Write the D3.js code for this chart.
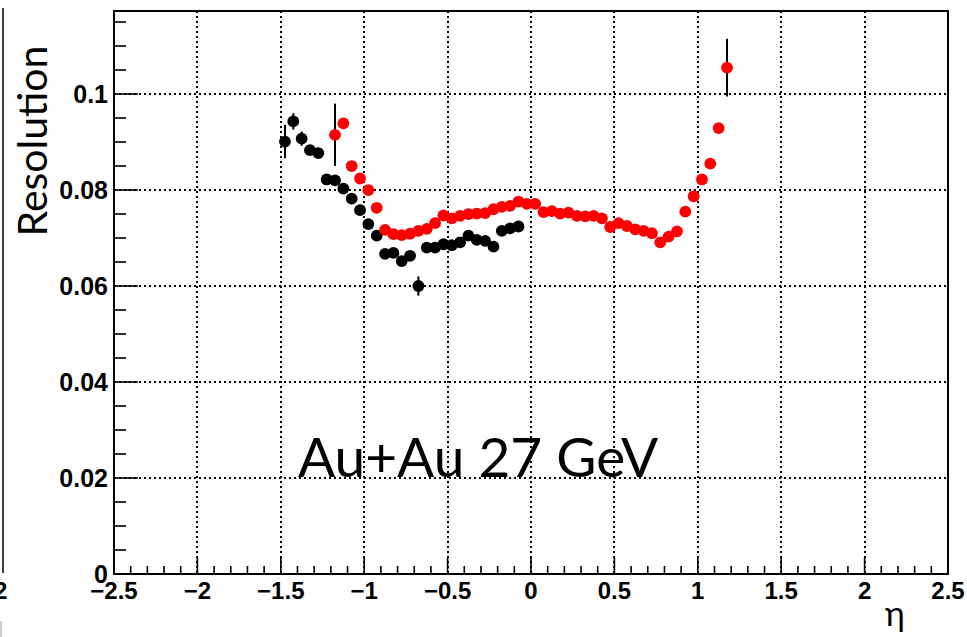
<!DOCTYPE html>
<html>
<head>
<meta charset="utf-8">
<script src="https://cdn.jsdelivr.net/npm/d3@7"></script>
<style>
  html, body { margin: 0; padding: 0; background: #fff; }
  svg { display: block; }
  .tick-label { font-family: "Liberation Sans", Arial, sans-serif; font-weight: bold; fill: #000; }
</style>
</head>
<body>
<svg id="chart" width="967" height="637"></svg>
<script>
// eta bin centres and resolution values
const etaBlack = [-1.475, -1.425, -1.375, -1.325, -1.275, -1.225, -1.175, -1.125, -1.075, -1.025,
  -0.975, -0.925, -0.875, -0.825, -0.775, -0.725, -0.675, -0.625, -0.575, -0.525,
  -0.475, -0.425, -0.375, -0.325, -0.275, -0.225, -0.175, -0.125, -0.075];
const resBlack = [0.0901, 0.0943, 0.0907, 0.0883, 0.0877, 0.0822, 0.0820, 0.0803, 0.0782, 0.0758,
  0.0729, 0.0705, 0.0667, 0.0669, 0.0652, 0.0663, 0.0600, 0.0680, 0.0680, 0.0687,
  0.0685, 0.0691, 0.0705, 0.0696, 0.0694, 0.0682, 0.0715, 0.0720, 0.0724];
const errBlack = [0.0035, 0.0017, 0.0015, 0.0008, 0.0008, 0.0008, 0.0008, 0.0008, 0.0008, 0.0008,
  0.0008, 0.0008, 0.0008, 0.0008, 0.0008, 0.0008, 0.0020, 0.0008, 0.0008, 0.0008,
  0.0008, 0.0008, 0.0008, 0.0008, 0.0008, 0.0008, 0.0008, 0.0008, 0.0008];

const etaRed = [-1.175, -1.125, -1.075, -1.025, -0.975, -0.925, -0.875, -0.825, -0.775, -0.725,
  -0.675, -0.625, -0.575, -0.525, -0.475, -0.425, -0.375, -0.325, -0.275, -0.225,
  -0.175, -0.125, -0.075, -0.025, 0.025, 0.075, 0.125, 0.175, 0.225, 0.275,
  0.325, 0.375, 0.425, 0.475, 0.525, 0.575, 0.625, 0.675, 0.725, 0.775,
  0.825, 0.875, 0.925, 0.975, 1.025, 1.075, 1.125, 1.175];
const resRed = [0.0915, 0.0939, 0.0850, 0.0824, 0.0800, 0.0763, 0.0717, 0.0708, 0.0706, 0.0709,
  0.0715, 0.0719, 0.0731, 0.0747, 0.0741, 0.0746, 0.0750, 0.0751, 0.0752, 0.0760,
  0.0765, 0.0767, 0.0776, 0.0771, 0.0771, 0.0754, 0.0756, 0.0751, 0.0753, 0.0746,
  0.0745, 0.0746, 0.0741, 0.0723, 0.0731, 0.0725, 0.0718, 0.0715, 0.0710, 0.0691,
  0.0703, 0.0714, 0.0755, 0.0787, 0.0822, 0.0855, 0.0929, 0.1055];
const errRed = [0.0065, 0.0008, 0.0008, 0.0008, 0.0008, 0.0008, 0.0008, 0.0008, 0.0008, 0.0008,
  0.0008, 0.0008, 0.0008, 0.0008, 0.0008, 0.0008, 0.0008, 0.0008, 0.0008, 0.0008,
  0.0008, 0.0008, 0.0008, 0.0008, 0.0008, 0.0008, 0.0008, 0.0008, 0.0008, 0.0008,
  0.0008, 0.0008, 0.0008, 0.0008, 0.0008, 0.0008, 0.0008, 0.0008, 0.0008, 0.0008,
  0.0008, 0.0008, 0.0008, 0.0008, 0.0008, 0.0008, 0.0008, 0.0060];

// axis ticks
const xMajorTicks = [-2.5, -2, -1.5, -1, -0.5, 0, 0.5, 1, 1.5, 2, 2.5];
const yMajorTicks = [0, 0.02, 0.04, 0.06, 0.08, 0.1];
const xDomain = [-2.5, 2.5];
const yDomain = [0, 0.1173];

const svg = d3.select('#chart');
const frame = { left: 114, right: 948, top: 11, bottom: 574 };

const x = d3.scaleLinear().domain(xDomain).range([frame.left, frame.right]);
const y = d3.scaleLinear().domain(yDomain).range([frame.bottom, frame.top]);
const fmt = d3.format('~g');

// bits of the neighbouring panel cut off at the left edge
svg.append('line')
  .attr('x1', 3).attr('x2', 3).attr('y1', 8).attr('y2', 573)
  .attr('stroke', '#000').attr('stroke-width', 1.5);
svg.append('text')
  .attr('class', 'tick-label')
  .attr('x', -6).attr('y', 599)
  .style('font-size', '24px')
  .text('2');
svg.append('line')
  .attr('x1', 1).attr('x2', 1).attr('y1', 621).attr('y2', 637)
  .attr('stroke', '#bbb').attr('stroke-width', 1.5);

// dotted grid
const grid = svg.append('g').attr('class', 'grid')
  .attr('stroke', '#000').attr('stroke-width', 2).attr('stroke-dasharray', '2,3')
  .attr('shape-rendering', 'crispEdges');
grid.selectAll('line.gx')
  .data(xMajorTicks.slice(1, -1))
  .join('line')
  .attr('class', 'gx')
  .attr('x1', d => Math.round(x(d))).attr('x2', d => Math.round(x(d)))
  .attr('y1', frame.top).attr('y2', frame.bottom);
grid.selectAll('line.gy')
  .data(yMajorTicks.slice(1))
  .join('line')
  .attr('class', 'gy')
  .attr('x1', frame.left).attr('x2', frame.right)
  .attr('y1', d => Math.round(y(d))).attr('y2', d => Math.round(y(d)));

// ticks (ROOT style: inside the frame, bottom and left only)
const xMinor = d3.range(-25, 26).map(i => i / 10);
const yMinor = d3.range(0, 24).map(i => i * 0.005).filter(v => v <= yDomain[1]);
const ticks = svg.append('g').attr('stroke', '#000').attr('stroke-width', 1.6);
ticks.selectAll('line.xt')
  .data(xMinor)
  .join('line')
  .attr('class', 'xt')
  .attr('x1', d => x(d)).attr('x2', d => x(d))
  .attr('y1', frame.bottom)
  .attr('y2', d => frame.bottom - (Math.abs(d * 2 - Math.round(d * 2)) < 1e-6 ? 16 : 8));
ticks.selectAll('line.yt')
  .data(yMinor)
  .join('line')
  .attr('class', 'yt')
  .attr('y1', d => y(d)).attr('y2', d => y(d))
  .attr('x1', frame.left)
  .attr('x2', (d, i) => frame.left + (i % 4 === 0 ? 24 : 12));

// tick labels
svg.append('g').selectAll('text')
  .data(xMajorTicks)
  .join('text')
  .attr('class', 'tick-label')
  .attr('x', d => x(d))
  .attr('y', 599)
  .attr('text-anchor', 'middle')
  .style('font-size', '24px')
  .text(d => fmt(d));
svg.append('g').selectAll('text')
  .data(yMajorTicks)
  .join('text')
  .attr('class', 'tick-label')
  .attr('x', frame.left - 6)
  .attr('y', d => y(d))
  .attr('dy', '0.36em')
  .attr('text-anchor', 'end')
  .style('font-size', '25px')
  .text(d => fmt(d));

// frame
svg.append('rect')
  .attr('x', frame.left).attr('y', frame.top)
  .attr('width', frame.right - frame.left).attr('height', frame.bottom - frame.top)
  .attr('fill', 'none').attr('stroke', '#000').attr('stroke-width', 2);

// data series
const drawSeries = (etas, vals, errs, color) => {
  const pts = etas.map((e, i) => ({ eta: e, v: vals[i], err: errs[i] }));
  const g = svg.append('g');
  g.selectAll('line')
    .data(pts)
    .join('line')
    .attr('x1', d => x(d.eta)).attr('x2', d => x(d.eta))
    .attr('y1', d => y(d.v - d.err)).attr('y2', d => y(d.v + d.err))
    .attr('stroke', '#000').attr('stroke-width', 2);
  g.selectAll('circle')
    .data(pts)
    .join('circle')
    .attr('cx', d => x(d.eta))
    .attr('cy', d => y(d.v))
    .attr('r', 5.9)
    .attr('fill', color);
};
drawSeries(etaBlack, resBlack, errBlack, '#000');
drawSeries(etaRed, resRed, errRed, '#ff0000');

// titles
svg.append('text')
  .attr('transform', 'translate(47,141) rotate(-90)')
  .attr('text-anchor', 'middle')
  .style('font-family', 'Lato, "Open Sans", sans-serif')
  .style('font-size', '41px')
  .text('Resolution');

svg.append('text')
  .attr('x', 895).attr('y', 626)
  .attr('text-anchor', 'middle')
  .style('font-family', 'Lato, "DejaVu Sans", sans-serif')
  .style('font-size', '34px')
  .text('η');

svg.append('text')
  .attr('x', 298).attr('y', 477)
  .style('font-family', 'Lato, "Open Sans", sans-serif')
  .style('font-size', '55px')
  .text('Au+Au 27 GeV');
</script>
</body>
</html>
